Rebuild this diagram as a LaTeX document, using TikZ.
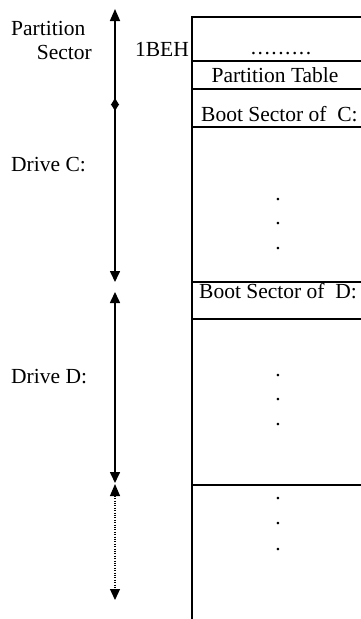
\documentclass[tikz,border=0pt]{standalone}
\usepackage{fontspec}
\setmainfont{Liberation Serif}
\usetikzlibrary{arrows.meta}
\begin{document}
\begin{tikzpicture}[x=1pt,y=-1pt,
  lbl/.style={inner sep=0pt,font=\fontsize{21.5}{24}\selectfont},
  vdots/.style={inner sep=0pt,align=center,anchor=north,font=\fontsize{21.5}{24.5}\selectfont},
  boxline/.style={line width=2.5pt},
  span/.style={line width=1.6pt},
  spandot/.style={line width=1.1pt,dash pattern=on 1pt off 1.4pt},
]
\useasboundingbox (0,0) rectangle (361,619);
% memory column
\draw[boxline] (361,17) -- (192,17) -- (192,619);
\foreach \yy in {61,89,127,282,319,485}
  \draw[boxline] (192,\yy) -- (361,\yy);
% labels
\node[lbl,anchor=base west] (ps1) at (11,35) {Partition};
\node[lbl,anchor=base east] (ps2) at (92,59) {Sector};
\node[lbl,anchor=base east] (beh) at (189,56) {1BEH};
\node[lbl,anchor=base] (dotrow) at (281,54) {.\kern1.5pt.\kern1.5pt.\kern1.5pt.\kern1.5pt.\kern1.5pt.\kern1.5pt.\kern1.5pt.\kern1.5pt.};
\node[lbl,anchor=base] (pt) at (275,82) {Partition Table};
\node[lbl,anchor=base west] (bsc) at (201,121) {Boot Sector of~~C:};
\node[lbl,anchor=base west] (drc) at (11,171) {Drive C:};
\node[lbl,anchor=base west] (bsd) at (199,298) {Boot Sector of~~D:};
\node[lbl,anchor=base west] (drd) at (11,383) {Drive D:};
\node[vdots] (vc) at (278,198) {.\\.\\.};
\node[vdots] (vd) at (278,374) {.\\.\\.};
\node[vdots,font=\fontsize{21.5}{25.5}\selectfont] (ve) at (278,497) {.\\.\\.};
% span arrows
\coordinate (a1t) at (115,9);
\coordinate (a1b) at (115,111);
\coordinate (a2t) at (115,98);
\coordinate (a2b) at (115,282);
\coordinate (a3t) at (115,292);
\coordinate (a3b) at (115,483);
\coordinate (a4t) at (115,484);
\coordinate (a4b) at (115,600);
\draw[span,arrows={Triangle[width=10pt,length=12pt]-Triangle[width=8pt,length=7pt]}] (a1t) -- (a1b);
\draw[span,arrows={Triangle[width=8pt,length=7pt]-Triangle[width=10pt,length=11pt]}] (a2t) -- (a2b);
\draw[span,arrows={Triangle[width=10pt,length=11pt]-Triangle[width=10pt,length=11pt]}] (a3t) -- (a3b);
\draw[spandot,arrows={Triangle[width=10pt,length=12pt]-Triangle[width=10pt,length=11pt]}] (a4t) -- (a4b);
\end{tikzpicture}
\end{document}
